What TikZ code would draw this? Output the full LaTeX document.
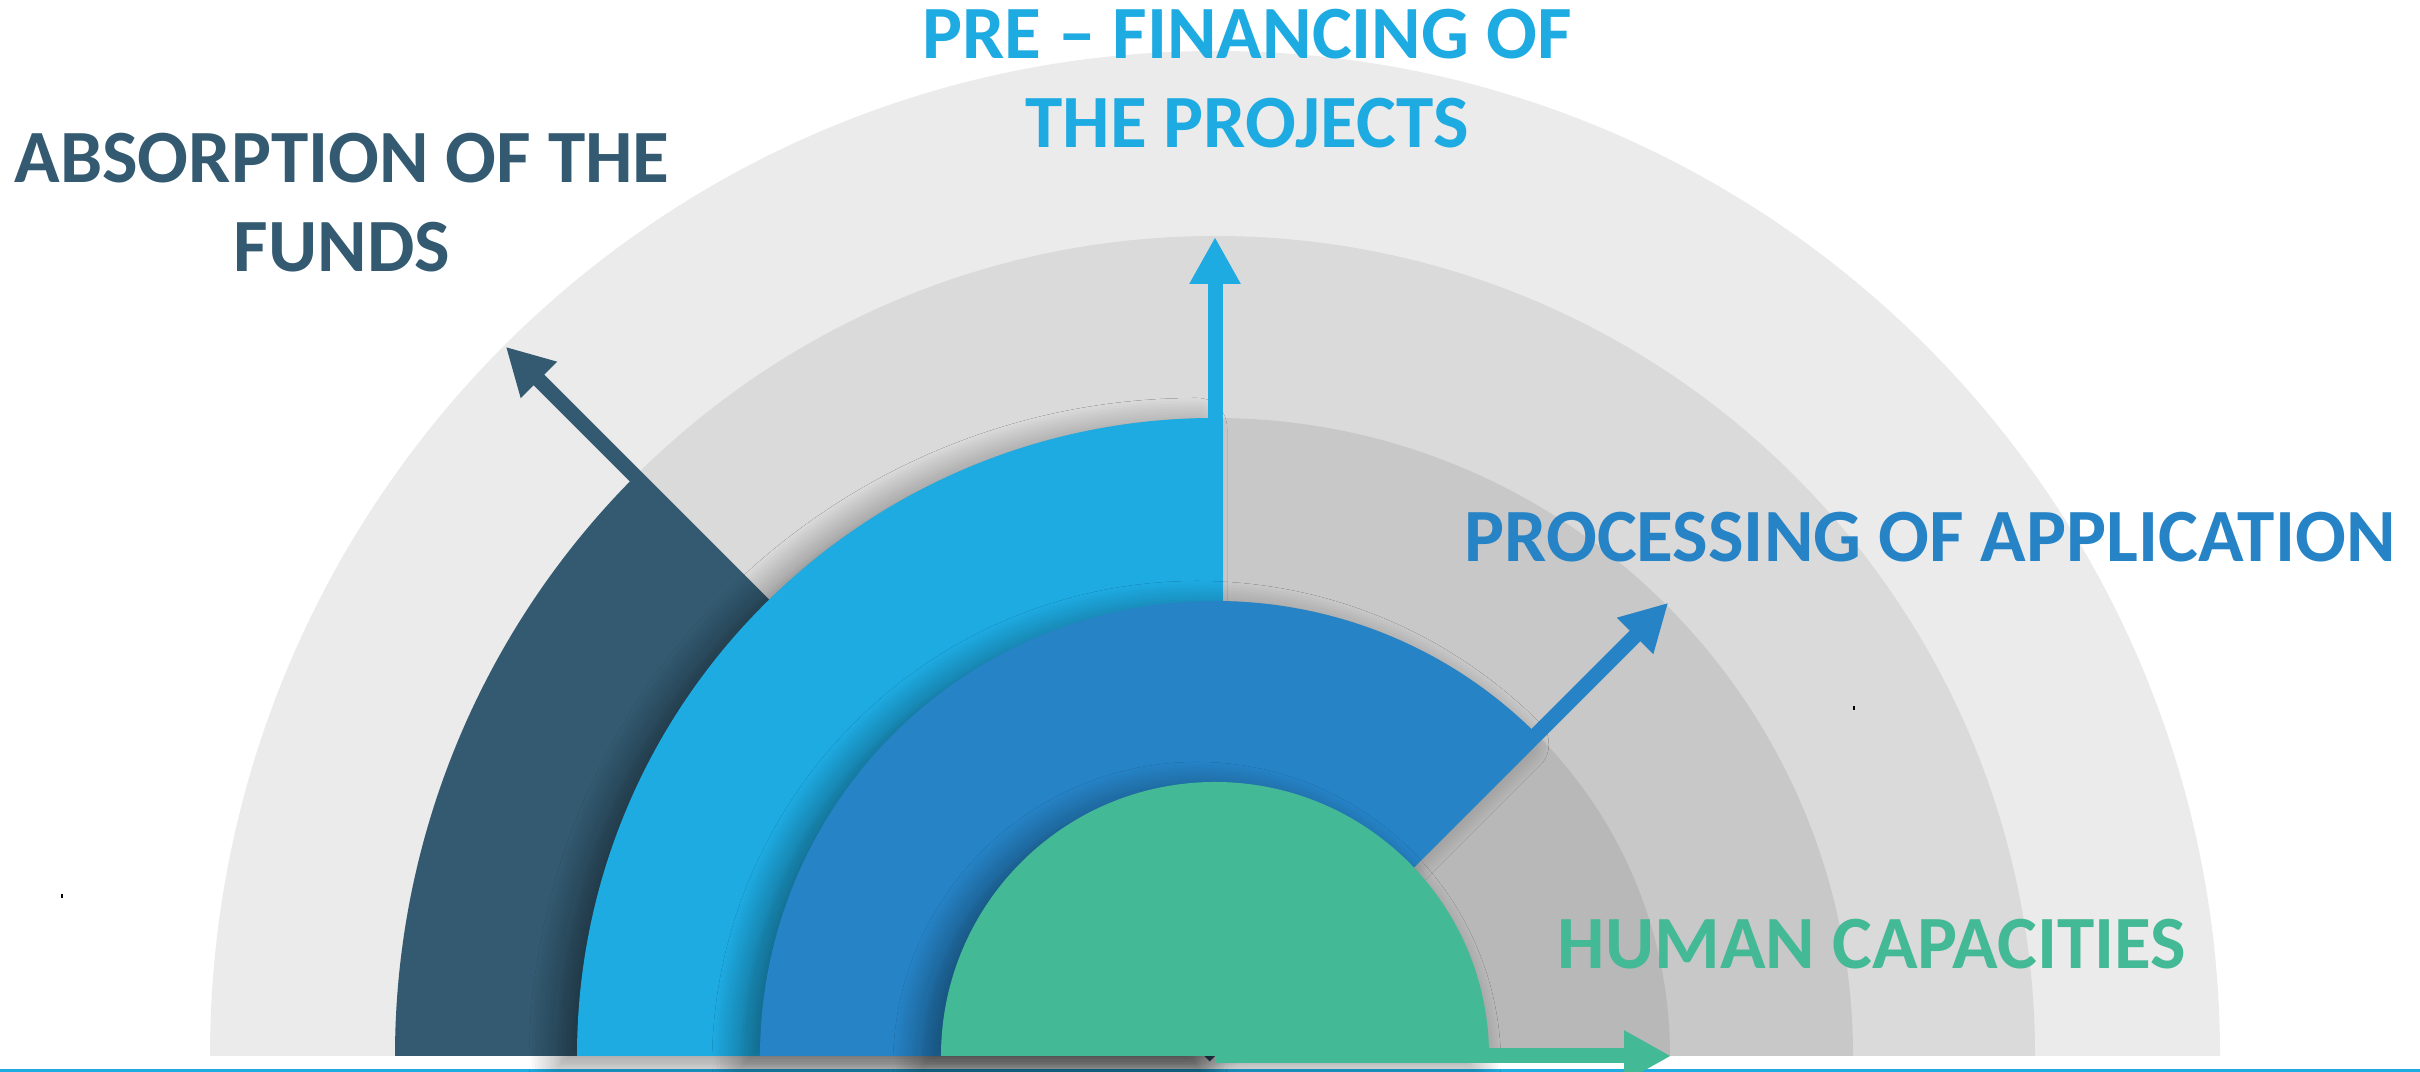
\documentclass[tikz,border=0pt]{standalone}
\usepackage{fontspec}
\setmainfont{Carlito}
\usepackage{tikz}
\usetikzlibrary{arrows.meta,shadows.blur,calc}
\definecolor{slate}{HTML}{335A71}
\definecolor{sky}{HTML}{1EABE2}
\definecolor{ocean}{HTML}{2683C6}
\definecolor{jade}{HTML}{43B996}
\definecolor{ringA}{HTML}{EBEBEB}
\definecolor{ringB}{HTML}{DADADA}
\definecolor{ringC}{HTML}{C8C8C8}
\definecolor{ringD}{HTML}{B8B8B8}
\tikzstyle{stage}=[font=\fontsize{21.4}{25.3}\selectfont\bfseries,
  text centered, align=center, inner sep=0pt]
\tikzstyle{pointer}=[line width=1.5mm, -{Triangle[length=4.7mm,width=4.8mm]}]
\tikzstyle{softshadow}=[blur shadow={shadow xshift=-1.8mm, shadow yshift=-1mm,
  shadow blur radius=3mm, shadow blur steps=12, shadow opacity=45}]

\begin{document}
\begin{tikzpicture}
  \useasboundingbox (0,0) rectangle (24.2,10.72);
  \coordinate (centre) at (12.15,0.16);

  \draw[sky, line width=0.3mm] (0,0.015) -- (24.2,0.015);

  \fill[ringA] (centre) -- +(0:10.05) arc[start angle=0, end angle=180, radius=10.05] -- cycle;
  \fill[ringB] (centre) -- +(0:8.2) arc[start angle=0, end angle=180, radius=8.2] -- cycle;
  \fill[ringC] (centre) -- +(0:6.38) arc[start angle=0, end angle=180, radius=6.38] -- cycle;
  \fill[ringD] (centre) -- +(0:4.55) arc[start angle=0, end angle=180, radius=4.55] -- cycle;

  \fill[slate] (centre) -- +(135:8.2) arc[start angle=135, end angle=180, radius=8.2] -- cycle;
  \path(centre)+(135:10.03) coordinate(absorb tip);
  \draw[pointer, slate] (centre) -- (absorb tip);

  \fill[sky, softshadow] (centre) -- +(90:6.38) arc[start angle=90, end angle=180, radius=6.38] -- cycle;
  \path(centre)+(90:8.19) coordinate(prefin tip);
  \draw[pointer, sky] (centre) -- (prefin tip);

  \fill[ocean, softshadow] (centre) -- +(45:4.55) arc[start angle=45, end angle=180, radius=4.55] -- cycle;
  \path(centre)+(45:6.41) coordinate(process tip);
  \draw[pointer, ocean] (centre) -- (process tip);

  \fill[jade, softshadow] (centre) -- +(0:2.74) arc[start angle=0, end angle=180, radius=2.74] -- cycle;
  \path(centre)+(0:4.56) coordinate(human tip);
  \draw[pointer, jade] (centre) -- (human tip);

  \path(centre)+(-8.73,8.53) node(absorb)[stage, slate]{ABSORPTION OF THE\\FUNDS};
  \path(centre)+(0.32,9.775) node(prefin)[stage, sky]{PRE – FINANCING OF\\THE PROJECTS};
  \path(centre)+(7.15,5.19) node(process)[stage, ocean]{PROCESSING OF APPLICATION};
  \path(centre)+(6.57,1.115) node(human)[stage, jade]{HUMAN CAPACITIES};

  \fill (18.53,3.62) rectangle +(0.02,0.04);
  \fill (0.61,1.74) rectangle +(0.015,0.04);
\end{tikzpicture}
\end{document}
